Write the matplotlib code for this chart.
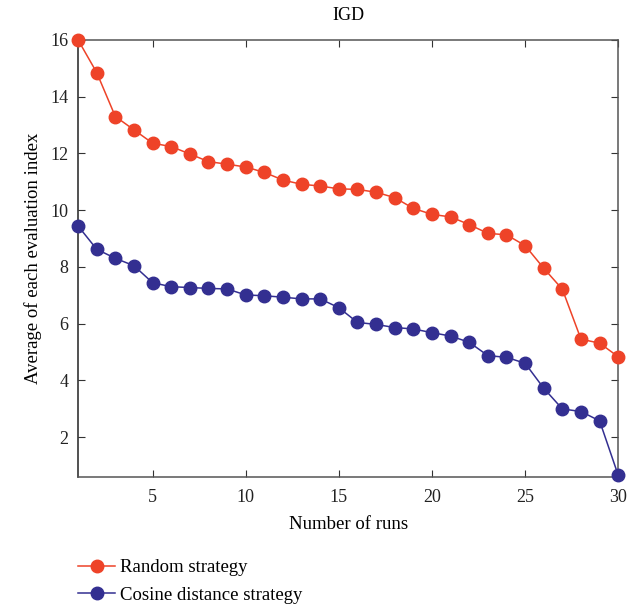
import numpy as np
import matplotlib.pyplot as plt

plt.rcParams['font.family'] = ['Liberation Serif', 'DejaVu Serif']

runs = np.arange(1, 31)
random_strategy = [16.0, 14.85, 13.30, 12.83, 12.36, 12.24, 11.98, 11.71, 11.62, 11.52,
                   11.33, 11.06, 10.91, 10.85, 10.75, 10.73, 10.63, 10.44, 10.06, 9.85,
                   9.76, 9.49, 9.18, 9.13, 8.75, 7.95, 7.21, 5.45, 5.31, 4.83]
cosine_strategy = [9.44, 8.62, 8.30, 8.04, 7.44, 7.30, 7.27, 7.24, 7.22, 7.01,
                   6.98, 6.93, 6.87, 6.87, 6.56, 6.04, 5.97, 5.86, 5.81, 5.68,
                   5.56, 5.34, 4.87, 4.81, 4.60, 3.72, 2.99, 2.90, 2.57, 0.65]

red = "#EE4328"
blue = "#332F91"

fig = plt.figure(figsize=(6.4, 6.05), dpi=100)
ax = fig.add_axes([0.122, 0.212, 0.844, 0.722])

ax.plot(runs, random_strategy, color=red, lw=1.1, marker="o", ms=9,
        label="Random strategy", clip_on=False, zorder=3)
ax.plot(runs, cosine_strategy, color=blue, lw=1.1, marker="o", ms=9,
        label="Cosine distance strategy", clip_on=False, zorder=3)

ax.set_xlim(1, 30)
ax.set_ylim(0.6, 16)
ax.set_xticks([5, 10, 15, 20, 25, 30])
ax.set_yticks(np.arange(2, 17, 2))
ax.tick_params(direction="in", top=True, right=True, length=5, labelsize=13,
               color="#333333", labelcolor="#222222")
ax.tick_params(axis="y", pad=7)
ax.tick_params(axis="x", pad=9)
for name, s in ax.spines.items():
    s.set_color("#222222" if name == "left" else "#555555")
    s.set_linewidth(1.1)

ax.set_title("IGD", fontsize=13, pad=14)
ax.set_xlabel("Number of runs", fontsize=13.5, labelpad=7)
ax.set_ylabel("Average of each evaluation index", fontsize=13.5, labelpad=6)

fig.legend(loc="upper left", bbox_to_anchor=(0.11, 0.088), frameon=False,
           fontsize=13.5, handlelength=2.0, handletextpad=0.25, labelspacing=0.55,
           borderaxespad=0)

plt.savefig("out.png", dpi=100)
